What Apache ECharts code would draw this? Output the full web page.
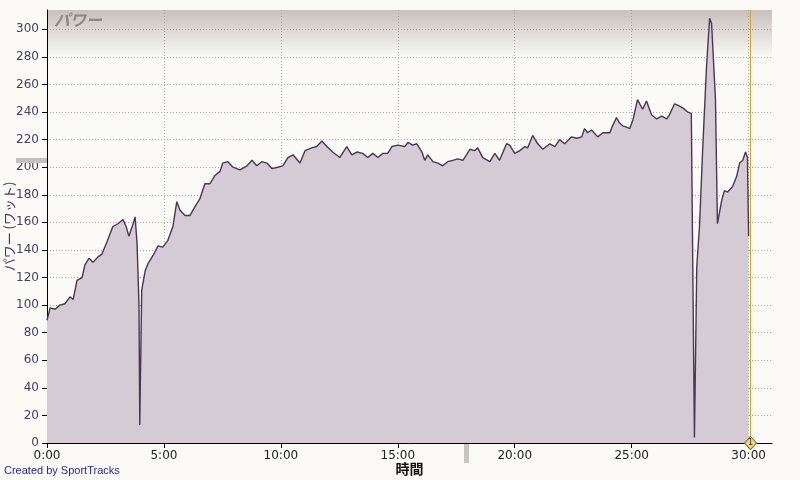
<!DOCTYPE html>
<html>
<head>
<meta charset="utf-8">
<script src="https://cdn.jsdelivr.net/npm/echarts@6/dist/echarts.min.js"></script>
<style>
html,body{margin:0;padding:0;background:#FBFAF6;}
#chart{width:800px;height:480px;}
</style>
</head>
<body>
<div id="chart"></div>
<script>
// elapsed time (seconds)
var timeSec = [0,8,21,33,46,59,67,77,90,97,108,118,131,141,154,169,182,195,203,210,221,226,231,236,238,243,252,259,272,285,297,310,323,333,341,354,367,379,392,405,418,431,444,
451,464,477,495,513,526,538,551,564,577,592,605,618,631,649,662,679,692,705,718,733,751,769,782,795,810,823,836,849,862,874,885,900,
918,926,938,949,962,969,977,990,1003,1015,1028,1041,1054,1067,1085,1097,1105,1118,1136,1149,1161,1179,1187,1200,1213,1226,1233,1246,1259,1272,1290,1303,1315,1328,1346,1359,1372,1379,1387,1397,
1413,1426,1444,1451,1461,1469,1477,1487,1495,1503,1515,1528,1538,1551,1564,1577,1590,1597,1610,1618,1631,1644,1653,
1661,1667,1674,1682,1692,1700,1705,1710,1715,1720,1731,1738,1746,1759,1769,1777,1785,1792,1797,1800];
// power (watts)
var powerW = [89,98,97,100,101,106,104,118,120,129,134,131,135,137,146,157,159,162,157,150,159,164,145,100,13,111,125,130,136,143,142,147,157,175,169,165,165,171,177,188,188,194,197,
203,204,200,198,201,205,201,204,203,199,200,201,207,209,203,212,214,215,219,215,211,207,215,209,211,210,207,210,207,210,210,215,216,
215,218,216,217,211,205,209,204,203,201,204,205,206,205,213,212,214,207,204,210,205,217,216,210,212,215,214,223,217,213,217,215,220,217,222,221,222,228,225,227,
222,225,225,230,236,232,230,229,228,234,249,242,248,238,235,237,235,238,246,245,243,240,239,
4,128,157,212,273,308,304,304,249,159,176,183,182,186,193,203,205,211,207,150];
var yTicks = [0,20,40,60,80,100,120,140,160,180,200,220,240,260,280,300];
var xTickLabels = ['0:00','5:00','10:00','15:00','20:00','25:00','30:00'];
var markerTime = 1805;

var seriesData = timeSec.map(function(t,i){return [t, powerW[i]];});

var chart = echarts.init(document.getElementById('chart'), null, {renderer:'canvas'});
chart.setOption({
  backgroundColor:'#FBFAF6',
  animation:false,
  grid:{left:47,right:28,top:10,bottom:37,show:true,borderWidth:0,containLabel:false,outerBoundsMode:'none',
    backgroundColor:new echarts.graphic.LinearGradient(0,0,0,1,[
      {offset:0,color:'#C6C1BC'},{offset:0.04,color:'#D9D5D0'},{offset:0.11,color:'#FBFAF6'},{offset:1,color:'#FBFAF6'}])},
  title:{text:'パワー',left:49,top:7,textStyle:{fontFamily:'Noto Sans CJK JP',fontSize:16,fontStyle:'italic',fontWeight:'bold',color:'#8C8884'}},
  graphic:[
    {type:'rect',left:16,top:158,shape:{width:31,height:5},style:{fill:'#C4C0BC'},z:100},
    {type:'rect',left:464,top:444,shape:{width:5,height:19},style:{fill:'#C8C4C0'},z:100},
    {type:'text',left:4,top:465,style:{text:'Created by SportTracks',fill:'#2323C8',font:'11px "Liberation Sans"'},z:100}
  ],
  xAxis:{type:'value',min:0,max:1860,interval:300,
    name:'時間',nameLocation:'middle',nameGap:19,nameMoveOverlap:false,
    nameTextStyle:{fontFamily:'Noto Sans CJK JP',fontSize:14,fontWeight:'bold',color:'#111'},
    axisLine:{show:true,onZero:false,lineStyle:{color:'#000',width:1}},
    axisTick:{show:true,length:5,lineStyle:{color:'#000'}},
    axisLabel:{showMaxLabel:false,margin:7,fontFamily:'DejaVu Sans',fontSize:12,color:'#222',
      formatter:function(v){ if(v%300!==0) return ''; return xTickLabels[v/300]; }},
    splitLine:{show:true,showMaxLine:false,lineStyle:{type:[1,2],color:'#A8A8A8',width:1}}
  },
  yAxis:{type:'value',min:0,max:314,interval:20,
    name:'パワー (ワット)',nameLocation:'middle',nameGap:31,nameRotate:90,nameMoveOverlap:false,
    nameTextStyle:{fontFamily:'Noto Sans CJK JP',fontSize:13,color:'#4B3554'},
    axisLine:{show:true,lineStyle:{color:'#000',width:1}},
    axisTick:{show:true,length:5,lineStyle:{color:'#000'}},
    axisLabel:{showMaxLabel:false,margin:8,fontFamily:'DejaVu Sans',fontSize:12,color:'#4A3E58',
      formatter:function(v){ return (yTicks.indexOf(v)>=0)? String(v):''; }},
    splitLine:{show:true,showMaxLine:false,lineStyle:{type:[1,2],color:'#A8A8A8',width:1}}
  },
  series:[{
    type:'line',data:seriesData,showSymbol:false,symbol:'none',
    lineStyle:{color:'#4B3554',width:1.4},
    areaStyle:{color:'#D5CBD5',opacity:1},
    markLine:{silent:true,symbol:'none',label:{show:false},
      lineStyle:{color:'#D4A52A',width:1,type:'solid'},
      data:[{xAxis:markerTime}]},
    markPoint:{silent:true,symbol:'diamond',symbolSize:[12,13],
      itemStyle:{color:'#F2D675',borderColor:'#7A6A2A',borderWidth:1},
      label:{show:true,formatter:'1',fontSize:8,color:'#333',fontFamily:'DejaVu Sans'},
      data:[{coord:[markerTime,0]}]}
  }]
});
</script>
</body>
</html>
